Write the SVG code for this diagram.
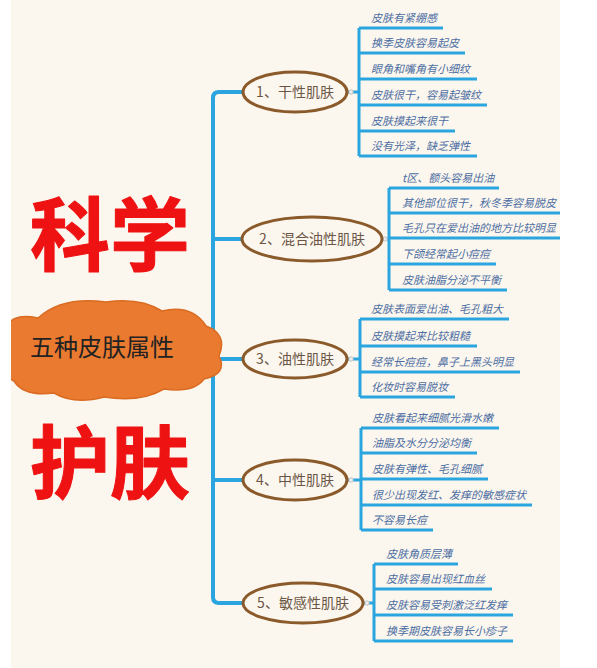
<svg xmlns="http://www.w3.org/2000/svg" width="597" height="668" viewBox="0 0 597 668">
<defs>
<style>
.leaf{font-family:"Noto Sans CJK SC","Noto Sans CJK JP",sans-serif;font-size:11px;font-style:italic;fill:#4C6EA3;}
.lbl{font-family:"Noto Sans CJK SC","Noto Sans CJK JP",sans-serif;font-size:14px;fill:#6B5646;text-anchor:middle;}
.big{font-family:"Noto Sans CJK SC","Noto Sans CJK JP",sans-serif;font-size:80px;font-weight:700;fill:#EE1212;stroke:#EE1212;stroke-width:1;stroke-linejoin:round;text-anchor:middle;}
.ell{fill:#FCF7EE;stroke:#8B5A2B;stroke-width:3;}
.ln{fill:none;stroke:#2AA5DF;stroke-width:3;}
.main{fill:none;stroke:#2AA5DF;stroke-width:4;stroke-linejoin:round;}
.dot{fill:#EEEEEE;stroke:#C4C4C4;stroke-width:1;}
</style>
<clipPath id="cream"><rect x="11" y="0" width="549" height="668"/></clipPath>
</defs>
<rect width="597" height="668" fill="#FFFFFF"/>
<rect x="11" y="0" width="549" height="668" fill="#FCF7EE"/>

<g id="title">
<text class="big" x="110" y="264">科学</text>
<text class="big" x="110" y="492">护肤</text>
</g>

<g id="connectors" clip-path="url(#cream)">
<path class="main" d="M243,92 H219 Q213,92 213,98 V597 Q213,603 219,603 H243 M213,239 H243 M213,359 H243 M213,480 H243"/>
<path class="ln" d="M348,92 H359 M382,239 H389 M348,359 H360 M348,480 H361 M364,603 H374"/>
<path class="ln" d="M359,28 V156 M359,28 H443 M359,53 H465 M359,79 H477 M359,105 H487 M359,131 H455 M359,156 H477"/>
<path class="ln" d="M389,188 V290 M389,188 H499 M389,213 H560 M389,238 H560 M389,264 H496 M389,290 H507"/>
<path class="ln" d="M360,319 V397 M360,319 H509 M360,346 H477 M360,372 H520 M360,397 H455"/>
<path class="ln" d="M361,428 V530 M361,428 H499 M361,453 H477 M361,479 H488 M361,505 H532 M361,530 H433"/>
<path class="ln" d="M374,564 V641 M374,564 H458 M374,589 H492 M374,615 H513 M374,641 H513"/>
<circle class="dot" cx="351" cy="92" r="2.2"/>
<circle class="dot" cx="385" cy="239" r="2.2"/>
<circle class="dot" cx="351" cy="359" r="2.2"/>
<circle class="dot" cx="351" cy="480" r="2.2"/>
<circle class="dot" cx="367" cy="603" r="2.2"/>
</g>

<g id="root" clip-path="url(#cream)">
<path d="M6,332 Q8,312 38,318 Q62,296 106,302 Q140,297 162,311 Q192,304 206,326 Q228,334 219,356 Q228,374 204,379 Q194,393 164,389 Q140,403 104,397 Q74,405 54,393 Q24,397 14,381 Q-6,371 6,350 Z" fill="#E97A30" stroke="#DA6B22" stroke-width="1.5"/>
<text x="102" y="356" style="font-family:'Noto Sans CJK SC','Noto Sans CJK JP',sans-serif;font-size:24px;font-weight:400;fill:#222222;text-anchor:middle">五种皮肤属性</text>
</g>

<g id="n1">
<ellipse class="ell" cx="295" cy="92" rx="52" ry="20"/>
<text class="lbl" x="295" y="97">1、干性肌肤</text>
</g>
<g id="n2">
<ellipse class="ell" cx="312" cy="239" rx="70" ry="22"/>
<text class="lbl" x="312" y="244">2、混合油性肌肤</text>
</g>
<g id="n3">
<ellipse class="ell" cx="295" cy="359" rx="52" ry="19"/>
<text class="lbl" x="295" y="364">3、油性肌肤</text>
</g>
<g id="n4">
<ellipse class="ell" cx="295" cy="480" rx="52" ry="20"/>
<text class="lbl" x="295" y="485">4、中性肌肤</text>
</g>
<g id="n5">
<ellipse class="ell" cx="303" cy="603" rx="60" ry="20"/>
<text class="lbl" x="303" y="608">5、敏感性肌肤</text>
</g>

<g id="leaves1">
<text class="leaf" x="371" y="22">皮肤有紧绷感</text>
<text class="leaf" x="371" y="47">换季皮肤容易起皮</text>
<text class="leaf" x="371" y="73">眼角和嘴角有小细纹</text>
<text class="leaf" x="371" y="99">皮肤很干，容易起皱纹</text>
<text class="leaf" x="371" y="125">皮肤摸起来很干</text>
<text class="leaf" x="371" y="150">没有光泽，缺乏弹性</text>
</g>
<g id="leaves2">
<text class="leaf" x="402" y="182">t区、额头容易出油</text>
<text class="leaf" x="402" y="207">其他部位很干，秋冬季容易脱皮</text>
<text class="leaf" x="402" y="232">毛孔只在爱出油的地方比较明显</text>
<text class="leaf" x="402" y="258">下颌经常起小痘痘</text>
<text class="leaf" x="402" y="284">皮肤油脂分泌不平衡</text>
</g>
<g id="leaves3">
<text class="leaf" x="371" y="313">皮肤表面爱出油、毛孔粗大</text>
<text class="leaf" x="371" y="340">皮肤摸起来比较粗糙</text>
<text class="leaf" x="371" y="366">经常长痘痘，鼻子上黑头明显</text>
<text class="leaf" x="371" y="391">化妆时容易脱妆</text>
</g>
<g id="leaves4">
<text class="leaf" x="372" y="422">皮肤看起来细腻光滑水嫩</text>
<text class="leaf" x="372" y="447">油脂及水分分泌均衡</text>
<text class="leaf" x="372" y="473">皮肤有弹性、毛孔细腻</text>
<text class="leaf" x="372" y="499">很少出现发红、发痒的敏感症状</text>
<text class="leaf" x="372" y="524">不容易长痘</text>
</g>
<g id="leaves5">
<text class="leaf" x="386" y="558">皮肤角质层薄</text>
<text class="leaf" x="386" y="583">皮肤容易出现红血丝</text>
<text class="leaf" x="386" y="609">皮肤容易受刺激泛红发痒</text>
<text class="leaf" x="386" y="635">换季期皮肤容易长小疹子</text>
</g>
</svg>
